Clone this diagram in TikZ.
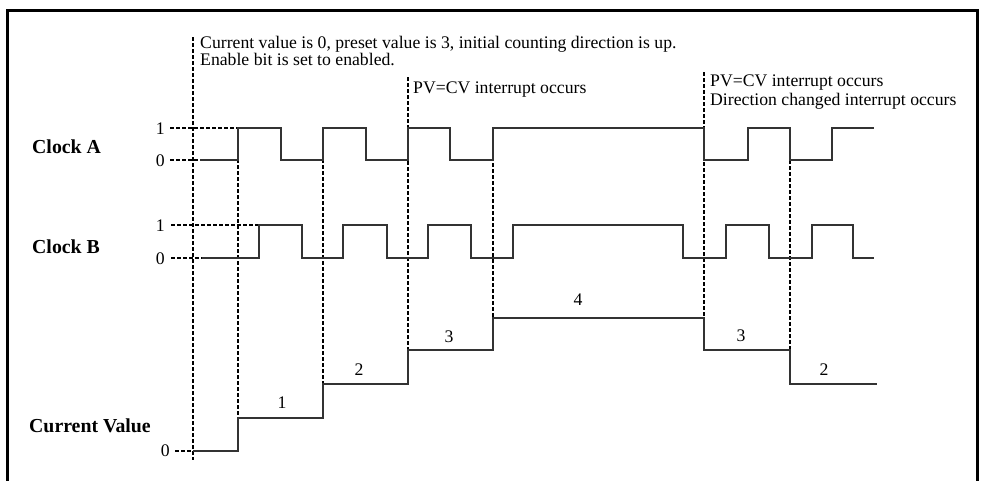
\documentclass[tikz,border=0pt]{standalone}
\usepackage{fontspec}
\setmainfont{Liberation Serif}
\begin{document}
\begin{tikzpicture}[x=1pt,y=-1pt,
  wave/.style={line width=1.5pt, draw=black!80, line join=miter},
  guide/.style={line width=1.3pt, dash pattern=on 4pt off 2pt},
  frameline/.style={line width=3pt},
  note/.style={anchor=base west, inner sep=0pt, font=\fontsize{17.7}{18}\selectfont},
  lvl/.style={anchor=base east, inner sep=0pt, font=\fontsize{17.7}{18}\selectfont},
  val/.style={anchor=base, inner sep=0pt, font=\fontsize{17.7}{18}\selectfont},
  sig/.style={anchor=base west, inner sep=0pt, font=\bfseries\fontsize{19.8}{20}\selectfont}]
\useasboundingbox (0,0) rectangle (984,480);
% frame
\draw[frameline] (7,482) -- (7,10) -- (977,10) -- (977,482);
% notes
\node[note] (n1) at (200,48) {Current value is 0, preset value is 3, initial counting direction is up.};
\node[note] (n2) at (200,65) {Enable bit is set to enabled.};
\node[note] (n3) at (413,93) {PV=CV interrupt occurs};
\node[note] (n4) at (710,86) {PV=CV interrupt occurs};
\node[note] (n5) at (710,105) {Direction changed interrupt occurs};
% signal names
\node[sig] (ca) at (32,153) {Clock A};
\node[sig] (cb) at (32,253) {Clock B};
\node[sig] (cv) at (29,432) {Current Value};
% level labels
\node[lvl] (a1) at (165,134) {1};
\node[lvl] (a0) at (165,166) {0};
\node[lvl] (b1) at (165,231) {1};
\node[lvl] (b0) at (165,264) {0};
\node[lvl] (v0) at (170,456) {0};
% level guides
\draw[guide] (170,128) -- (247,128);
\draw[guide] (170,160) -- (212,160);
\draw[guide] (171,225) -- (272,225);
\draw[guide] (171,258) -- (212,258);
\draw[guide] (175,451) -- (215,451);
% vertical guides
\draw[guide] (193,37) -- (193,460);
\draw[guide] (238,153) -- (238,432);
\draw[guide] (323,147) -- (323,393);
\draw[guide] (408,77) -- (408,363);
\draw[guide] (493,145) -- (493,332);
\draw[guide] (704,72) -- (704,325);
\draw[guide] (790,160) -- (790,358);
% Clock A
\draw[wave] (200,160) -- (238,160) -- (238,128) -- (281,128) -- (281,160) -- (323,160)
  -- (323,128) -- (366,128) -- (366,160) -- (408,160) -- (408,128) -- (450,128)
  -- (450,160) -- (493,160) -- (493,128) -- (704,128) -- (704,160) -- (748,160)
  -- (748,128) -- (790,128) -- (790,160) -- (832,160) -- (832,128) -- (874,128);
% Clock B
\draw[wave] (202,258) -- (259,258) -- (259,225) -- (302,225) -- (302,258) -- (343,258)
  -- (343,225) -- (387,225) -- (387,258) -- (428,258) -- (428,225) -- (471,225)
  -- (471,258) -- (513,258) -- (513,225) -- (683,225) -- (683,258) -- (726,258)
  -- (726,225) -- (769,225) -- (769,258) -- (812,258) -- (812,225) -- (853,225)
  -- (853,258) -- (874,258);
% Current value
\draw[wave] (193,451) -- (238,451) -- (238,418) -- (323,418) -- (323,384) -- (408,384)
  -- (408,350) -- (493,350) -- (493,318) -- (704,318) -- (704,350) -- (790,350)
  -- (790,384) -- (877,384);
% values
\node[val] (c1) at (282,408) {1};
\node[val] (c2) at (359,375) {2};
\node[val] (c3) at (449,342) {3};
\node[val] (c4) at (578,305) {4};
\node[val] (c5) at (741,341) {3};
\node[val] (c6) at (824,375) {2};
\end{tikzpicture}
\end{document}
